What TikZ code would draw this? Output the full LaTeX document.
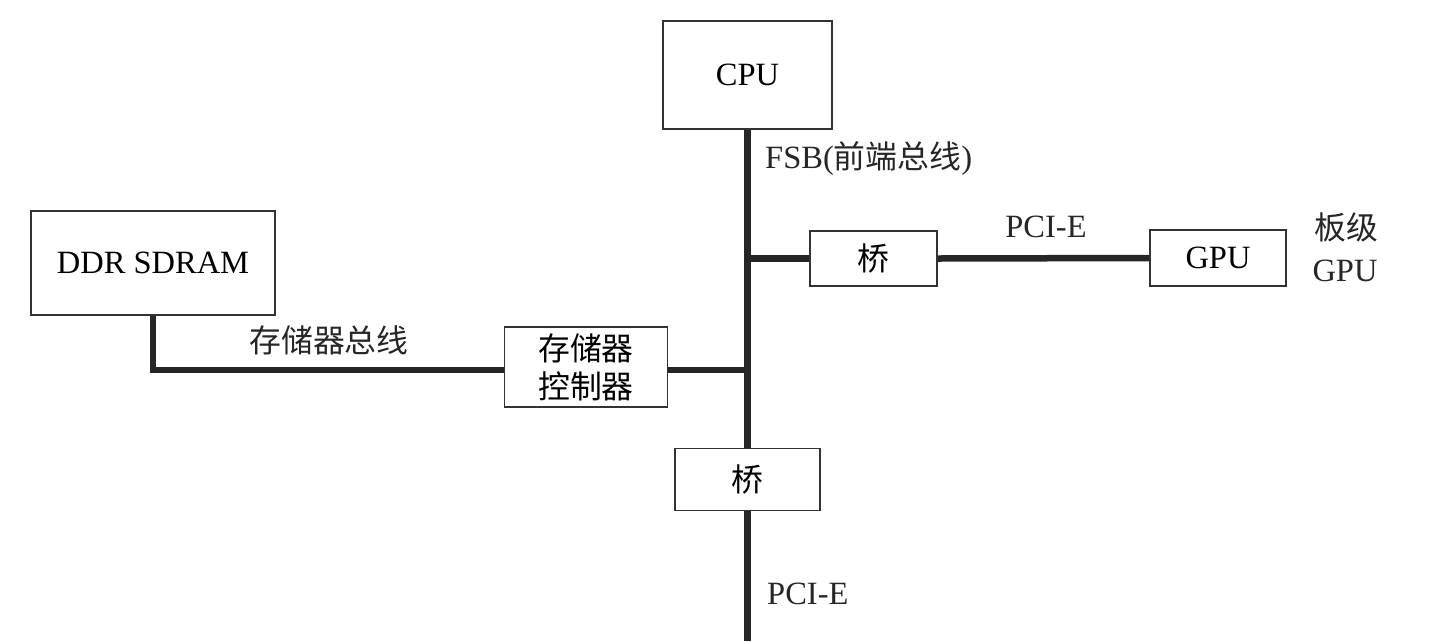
\documentclass[tikz,border=0pt]{standalone}
\usepackage{fontspec}
\usetikzlibrary{backgrounds}
\setmainfont{Liberation Serif}
\newfontfamily\cjk{Noto Sans CJK SC}[Scale=0.98]
\begin{document}
\begin{tikzpicture}[x=1pt,y=-1pt,
  box/.style={draw=black!80, line width=1.6pt, fill=white, inner sep=0pt, font=\fontsize{32.5}{36}\selectfont},
  bus/.style={draw=black!85, line width=6.5pt},
  lbl/.style={inner sep=0pt, font=\fontsize{32.5}{36}\selectfont, text=black!85}]
\useasboundingbox (0,0) rectangle (1429,641);
\node[box, minimum width=169pt, minimum height=108pt] (cpu) at (747.5,75) {CPU};
\node[box, minimum width=127pt, minimum height=55pt] (br1) at (873.5,258.5) {\cjk 桥};
\node[box, minimum width=136pt, minimum height=56pt] (gpu) at (1218,258) {GPU};
\node[box, minimum width=244pt, minimum height=104pt] (ddr) at (153,263) {DDR SDRAM};
\node[box, minimum width=163pt, minimum height=80pt, align=center, font=\cjk\fontsize{32.5}{38}\selectfont] (mc) at (586,367) {存储器\\控制器};
\node[box, minimum width=145pt, minimum height=62pt] (br2) at (747.5,479.5) {\cjk 桥};
\coordinate (j1) at (747.5,258.5);
\coordinate (j2) at (747.5,370);
\coordinate (bot) at (747.5,641);
\begin{scope}[on background layer]
\draw[bus] (cpu.south) -- (br2.north);
\draw[bus] (br2.south) -- (bot);
\draw[bus] (j1) -- (br1.west);
\draw[bus] (br1.east) -- (gpu.west);
\draw[bus] (mc.east |- j2) -- (j2);
\draw[bus] (ddr.south) |- (mc.west |- j2);
\end{scope}
\node[lbl, anchor=west] (fsb) at (765,158) {FSB(\cjk 前端总线\rmfamily)};
\node[lbl] (pcie1) at (1046,227) {PCI-E};
\node[lbl] (bj) at (1346,227) {\cjk 板级};
\node[lbl] (bjg) at (1345,271) {GPU};
\node[lbl, font=\cjk\fontsize{32.5}{36}\selectfont] (mbus) at (329,340) {存储器总线};
\node[lbl, anchor=west] (pcie2) at (767,594) {PCI-E};
\end{tikzpicture}
\end{document}
